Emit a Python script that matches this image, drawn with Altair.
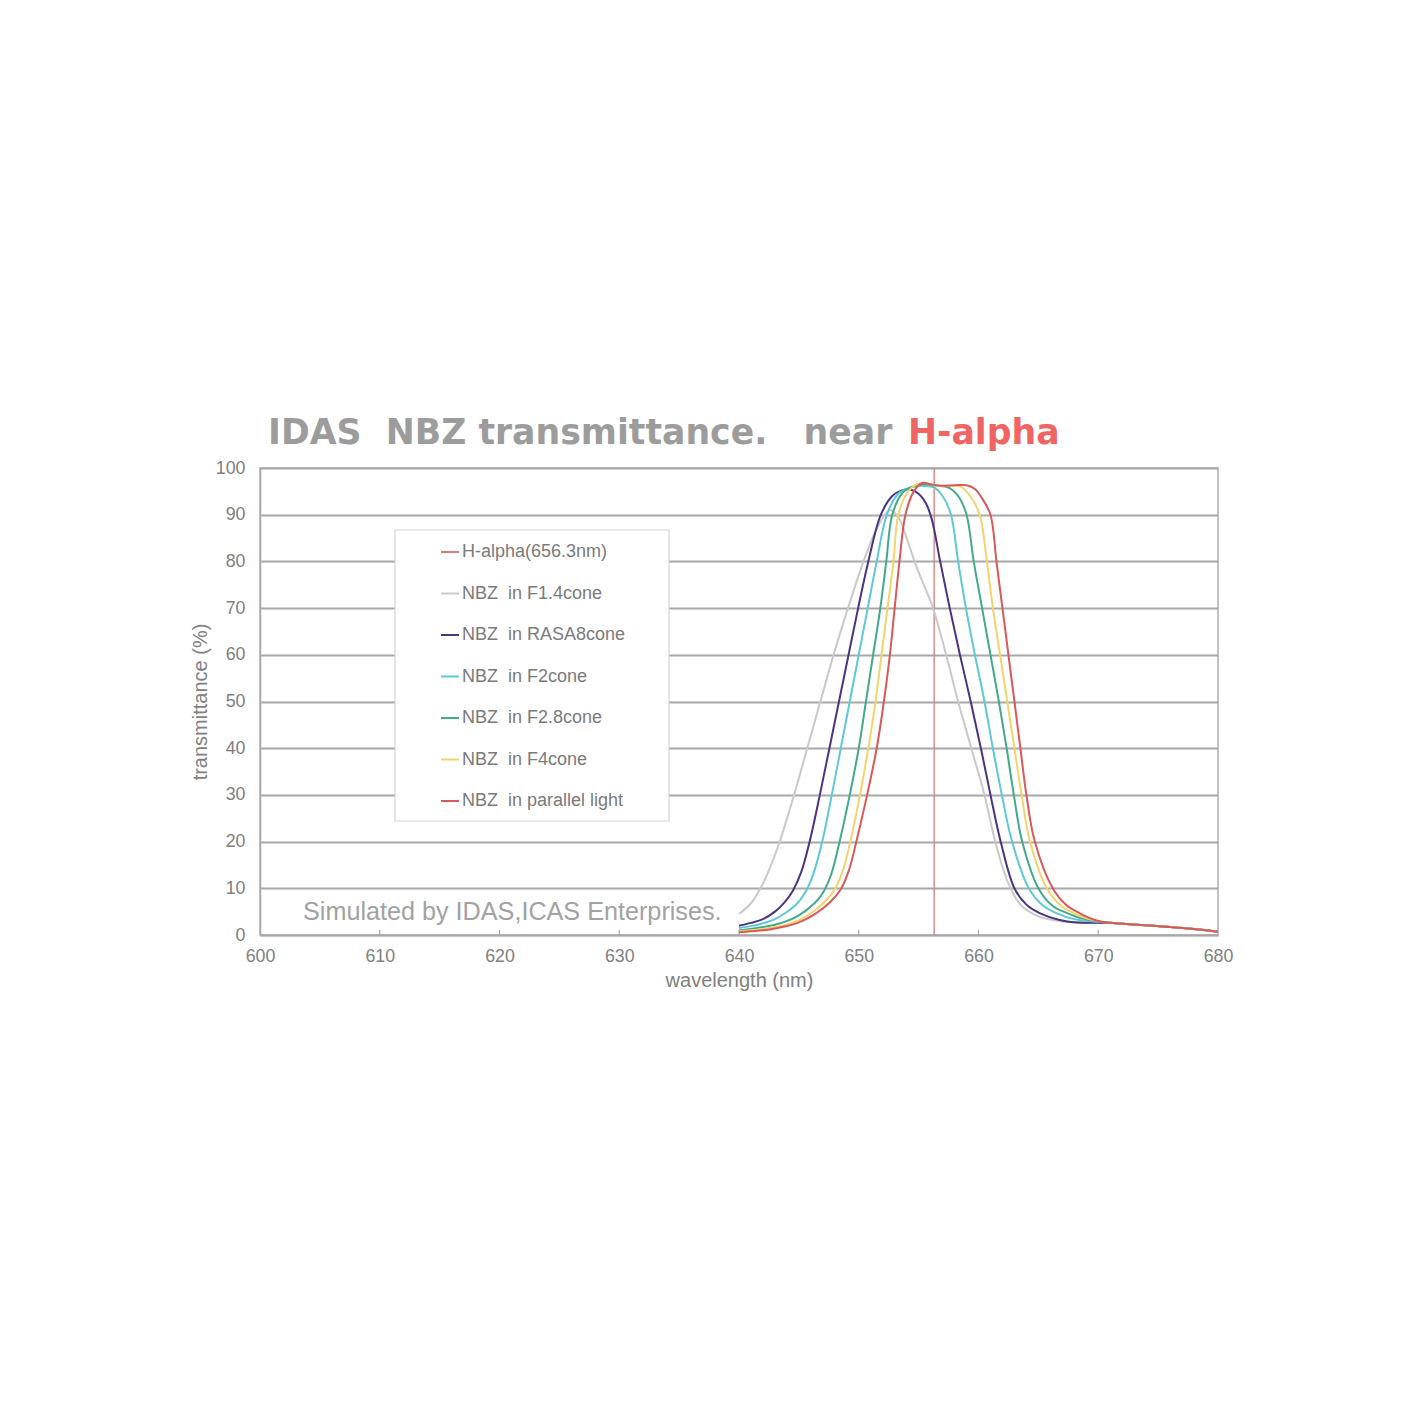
import altair as alt
import pandas as pd

# ---------------- data ----------------
NAMES = [
    "H-alpha(656.3nm)",
    "NBZ\u00a0\u00a0in F1.4cone",
    "NBZ\u00a0\u00a0in RASA8cone",
    "NBZ\u00a0\u00a0in F2cone",
    "NBZ\u00a0\u00a0in F2.8cone",
    "NBZ\u00a0\u00a0in F4cone",
    "NBZ\u00a0\u00a0in parallel light",
]
COLORS = ["#d67c7c", "#c9c9c9", "#4a3482", "#5ec8d8", "#40ab8c", "#f3d46c", "#d9585a"]

H_ALPHA = 656.3

# common long-wavelength tail (all curves merge)
tail_wl = [671, 672, 674, 676, 678, 680]
tail_t = [2.6, 2.4, 2.1, 1.7, 1.3, 0.7]

f14_wl = [640, 641, 641.8, 642.6, 643.4, 644.6, 645.7, 646.8, 647.9, 649.1, 650.4, 651.5, 652.6,
          653.3, 654.0, 654.8, 656.2, 657.3, 658.3, 659.4, 660.5, 661.4, 662.5, 663.5, 665, 667, 670]
f14_t = [4.5, 6.8, 10, 14.5, 20, 30, 40, 50, 60, 70, 80, 87, 91.0,
         89.5, 85, 79, 70, 60, 50, 40, 30, 20, 11, 6.5, 4.0, 2.9, 2.6]

rasa_wl = [640, 641, 642, 643, 643.8, 644.5, 645.2, 645.9, 646.75, 647.55, 648.35, 649.15, 649.95, 650.8,
           651.85, 652.8, 653.6, 654.3, 655.0, 655.6, 656.1, 656.8, 657.6, 658.45, 659.35, 660.2, 661.0,
           661.85, 663.0, 664.0, 665.1, 667.4, 670]
rasa_t = [2.0, 2.6, 3.4, 5.0, 7.0, 9.5, 13.5, 20, 30, 40, 50, 60, 70, 80,
          90, 94, 95.2, 95.4, 94.5, 92.5, 89, 80, 70, 60, 50, 40, 30,
          20, 10, 6.5, 4.7, 2.9, 2.6]

f2_wl = [640, 641, 642, 643, 643.8, 644.8, 645.5, 646.2, 646.95, 647.75, 648.5, 649.25, 650.0, 650.75, 651.5,
         652.35, 653.3, 654.3, 655.3, 656.3, 657.0, 657.7, 658.3, 658.95, 659.7, 660.5, 661.2, 661.95,
         662.8, 664.2, 665.3, 666.5, 668, 670]
f2_t = [1.5, 1.9, 2.5, 3.4, 4.6, 6.6, 9.0, 13.0, 20, 30, 40, 50, 60, 70, 80,
        90, 94.5, 95.8, 96.2, 95.8, 94, 90, 80, 70, 60, 50, 40, 30,
        20, 10, 6.5, 4.7, 3.4, 2.8]

f28_wl = [640, 641, 642, 643, 643.8, 645, 646.3, 647.0, 647.7, 648.4, 649.25, 650.0, 650.6, 651.2, 651.8,
          652.3, 652.8, 653.7, 654.7, 655.5, 656.5, 657.5, 658.3, 659.0, 659.6, 660.3, 661.0, 661.7,
          662.35, 662.95, 663.65, 665.0, 666.2, 667.4, 668.7, 670]
f28_t = [1.0, 1.3, 1.7, 2.2, 2.8, 4.2, 6.8, 9.0, 13.0, 20, 30, 40, 50, 60, 70,
         80, 90, 94.8, 96.2, 96.5, 96.2, 95.8, 94, 90, 80, 70, 60, 50,
         40, 30, 20, 10, 6.2, 4.7, 3.5, 2.9]

f4_wl = [640, 641, 642, 643, 643.8, 645, 646.3, 647.3, 648.0, 648.7, 649.3, 650.1, 650.8, 651.4, 651.9,
         652.4, 652.9, 653.3, 654.0, 654.8, 655.5, 656.3, 657.5, 658.5, 659.3, 660.1, 660.7, 661.2,
         661.8, 662.4, 663.0, 663.6, 664.3, 665.7, 666.8, 668, 669, 670]
f4_t = [0.8, 1.0, 1.3, 1.7, 2.1, 3.2, 5.2, 7.5, 9.8, 14.0, 20, 30, 40, 50, 60,
        70, 80, 90, 94.5, 96.5, 96.8, 96.3, 96.2, 96.0, 94, 90, 80, 70,
        60, 50, 40, 30, 20, 10, 6.5, 4.6, 3.6, 3.0]

par_wl = [640, 641, 642, 643, 643.8, 645, 646.3, 647.6, 648.5, 649.2, 649.8, 650.7, 651.5, 652.1, 652.6,
          653.0, 653.4, 653.9, 654.6, 655.3, 656.0, 657.0, 658.0, 659.0, 659.7, 660.3, 661.0, 661.5,
          662.0, 662.5, 663.0, 663.5, 664.0, 664.7, 666.2, 667.3, 668.5, 669.3, 670]
par_t = [0.6, 0.8, 1.0, 1.4, 1.8, 2.7, 4.4, 7.0, 9.8, 14.0, 20, 30, 40, 50, 60,
         70, 80, 90, 95, 96.8, 96.5, 96.2, 96.3, 96.3, 95.5, 93.5, 90, 80,
         70, 60, 50, 40, 30, 20, 10, 6.5, 4.6, 3.6, 3.0]

x_ticks = [600, 610, 620, 630, 640, 650, 660, 670, 680]
y_ticks = [0, 10, 20, 30, 40, 50, 60, 70, 80, 90, 100]
inner_ticks = [610, 620, 630, 640, 650, 660, 670]

# ---------------- tables ----------------
rows = []
for name, wl, t in [
    (NAMES[1], f14_wl, f14_t),
    (NAMES[2], rasa_wl, rasa_t),
    (NAMES[3], f2_wl, f2_t),
    (NAMES[4], f28_wl, f28_t),
    (NAMES[5], f4_wl, f4_t),
    (NAMES[6], par_wl, par_t),
]:
    for w, v in zip(wl + tail_wl, t + tail_t):
        rows.append({"series": name, "wl": w, "t": v})
curves = pd.DataFrame(rows)

halpha = pd.DataFrame({"series": [NAMES[0]], "wl": [H_ALPHA], "y0": [0], "y1": [100]})
ticks_df = pd.DataFrame({"wl": inner_ticks, "y0": [0] * len(inner_ticks), "y1": [1.1] * len(inner_ticks)})
one = pd.DataFrame({"a": [0]})

GRAY = "#808080"
FONT = "Liberation Sans"

xscale = alt.Scale(domain=[600, 680], nice=False, zero=False)
yscale = alt.Scale(domain=[0, 100], nice=False)
color = alt.Color(
    "series:N",
    scale=alt.Scale(domain=NAMES, range=COLORS),
    legend=alt.Legend(
        orient="none", legendX=180, legendY=74, title=None,
        symbolType="stroke", symbolSize=324, symbolStrokeWidth=2,
        labelFontSize=18, labelColor="#7a7a7a", labelFont=FONT, labelLimit=400,
        rowPadding=22.5, labelOffset=2, padding=0,
    ),
)

xaxis = alt.Axis(values=x_ticks, grid=False, ticks=False, domainColor="#a8a8a8", domainWidth=1.5,
                 labelFontSize=17.8, labelColor=GRAY, labelPadding=12, labelFlush=False,
                 title="wavelength (nm)", titleFontSize=20, titleFontWeight="normal",
                 titleColor=GRAY, titlePadding=6)
yaxis = alt.Axis(values=y_ticks, grid=True, gridColor="#a8a8a8", gridWidth=1.8, ticks=False,
                 domainColor="#a8a8a8", domainWidth=1.5,
                 labelFontSize=17.8, labelColor=GRAY, labelPadding=15, labelFlush=False,
                 title="transmittance (%)", titleFontSize=20, titleFontWeight="normal",
                 titleColor=GRAY, titlePadding=5)

legend_box = alt.Chart(one).mark_rect(fill="white", stroke="#d4d4d4", strokeWidth=1.2).encode(
    x=alt.value(135), x2=alt.value(409), y=alt.value(62), y2=alt.value(353)
)

inner = alt.Chart(ticks_df).mark_rule(color="#a8a8a8", strokeWidth=1.2).encode(
    x=alt.X("wl:Q", scale=xscale, axis=xaxis),
    y=alt.Y("y0:Q", scale=yscale, axis=yaxis),
    y2="y1:Q",
)

hrule = alt.Chart(halpha).mark_rule(strokeWidth=1.3).encode(
    x=alt.X("wl:Q", scale=xscale),
    y=alt.Y("y0:Q", scale=yscale),
    y2="y1:Q",
    color=color,
)

lines = alt.Chart(curves).mark_line(strokeWidth=2, interpolate="catmull-rom").encode(
    x=alt.X("wl:Q", scale=xscale),
    y=alt.Y("t:Q", scale=yscale),
    color=color,
    detail="series:N",
)

title_gray = alt.Chart(one).mark_text(
    text="IDAS\u00a0\u00a0NBZ transmittance.\u00a0\u00a0\u00a0near",
    font="DejaVu Sans", fontSize=34.7, fontWeight="bold", color="#9c9c9c", align="left", baseline="alphabetic",
).encode(x=alt.value(8), y=alt.value(-24))

title_red = alt.Chart(one).mark_text(
    text="H-alpha", font="DejaVu Sans", fontSize=34.7, fontWeight="bold", color="#f06464",
    align="left", baseline="alphabetic",
).encode(x=alt.value(648), y=alt.value(-24))

note = alt.Chart(one).mark_text(
    text="Simulated by IDAS,ICAS Enterprises.", font=FONT, fontSize=25.2, color="#a2a2a2",
    align="left", baseline="middle",
).encode(x=alt.value(43), y=alt.value(444))

chart = alt.layer(inner, legend_box, hrule, lines, note, title_gray, title_red).properties(
    width=958, height=467,
    autosize=alt.AutoSizeParams(type="none"),
    padding={"left": 252, "top": 460, "right": 196, "bottom": 479},
).configure(font=FONT, background="white").configure_view(stroke="#b0b0b0", strokeWidth=1.5)

chart.save("out.html", embed_options={"renderer": "svg", "actions": False})
